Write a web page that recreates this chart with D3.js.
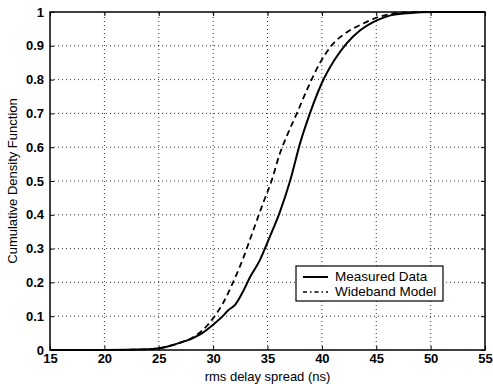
<!DOCTYPE html>
<html>
<head>
<meta charset="utf-8">
<script src="https://cdn.jsdelivr.net/npm/d3@7"></script>
<style>
  body { margin: 0; background: #fff; }
  text { font-family: "Liberation Sans", Arial, sans-serif; fill: #000; }
</style>
</head>
<body>
<div id="chart"></div>
<script>
// x ticks / y ticks
const xTicks = [15, 20, 25, 30, 35, 40, 45, 50, 55];
const yTicks = [0, 0.1, 0.2, 0.3, 0.4, 0.5, 0.6, 0.7, 0.8, 0.9, 1];

// measured data (solid)
const measuredX = [15, 20, 24, 25, 26, 27, 28, 28.8, 30, 31, 31.4, 32, 32.7, 33.4, 34.3, 35.2, 36.1, 37.1, 38, 38.9, 40, 41.2, 42.3, 43.5, 45.1, 46.3, 48.1, 50, 55];
const measuredY = [0, 0, 0.002, 0.005, 0.012, 0.022, 0.033, 0.046, 0.075, 0.104, 0.118, 0.133, 0.17, 0.216, 0.266, 0.334, 0.405, 0.503, 0.612, 0.70, 0.79, 0.86, 0.908, 0.945, 0.976, 0.99, 0.997, 1, 1];

// wideband model (dashed)
const modelX = [15, 20, 24, 25, 26, 27, 28, 29, 29.5, 30.2, 30.9, 31.8, 32.7, 33.7, 34.6, 35.4, 36.1, 36.8, 37.7, 38.7, 39.8, 41, 42.3, 43.8, 45.1, 46.3, 48, 50, 55];
const modelY = [0, 0, 0.002, 0.005, 0.012, 0.022, 0.035, 0.058, 0.074, 0.103, 0.138, 0.198, 0.266, 0.355, 0.435, 0.503, 0.578, 0.635, 0.70, 0.775, 0.848, 0.905, 0.94, 0.966, 0.984, 0.994, 0.999, 1, 1];

const legendText = ['Measured Data', 'Wideband Model'];

const width = 493, height = 384;
const margin = { left: 50, right: 8, top: 12, bottom: 34 };

const svg = d3.select('#chart')
  .append('svg')
  .attr('width', width)
  .attr('height', height);

const x = d3.scaleLinear().domain([15, 55]).range([margin.left, width - margin.right]);
const y = d3.scaleLinear().domain([0, 1]).range([height - margin.bottom, margin.top]);

//grid
const grid = svg.append('g')
  .attr('stroke', '#000')
  .attr('stroke-width', 0.8)
  .attr('stroke-dasharray', '1,3');

grid.selectAll('.vg')
  .data(xTicks.slice(1, -1))
  .enter()
  .append('line')
  .attr('x1', d => x(d)).attr('x2', d => x(d))
  .attr('y1', y(0)).attr('y2', y(1));

grid.selectAll('.hg')
  .data(yTicks.slice(1, -1))
  .enter()
  .append('line')
  .attr('x1', x(15)).attr('x2', x(55))
  .attr('y1', d => y(d)).attr('y2', d => y(d));

//axes (MATLAB style, ticks inward on all sides)
const fmt = d => (d === 0 || d === 1) ? String(d) : d3.format('.1f')(d);

svg.append('g')
  .attr('transform', `translate(0,${y(0)})`)
  .call(d3.axisBottom(x).tickValues(xTicks).tickSizeInner(-4).tickSizeOuter(0).tickPadding(4))
  .call(g => g.select('.domain').remove())
  .call(g => g.selectAll('text').attr('font-size', 13).attr('font-weight', 'bold'));

svg.append('g')
  .attr('transform', `translate(0,${y(1)})`)
  .call(d3.axisTop(x).tickValues(xTicks).tickSizeInner(-4).tickSizeOuter(0).tickFormat(''))
  .call(g => g.select('.domain').remove());

svg.append('g')
  .attr('transform', `translate(${x(15)},0)`)
  .call(d3.axisLeft(y).tickValues(yTicks).tickFormat(fmt).tickSizeInner(-4).tickSizeOuter(0).tickPadding(6))
  .call(g => g.select('.domain').remove())
  .call(g => g.selectAll('text').attr('font-size', 13).attr('font-weight', 'bold'));

svg.append('g')
  .attr('transform', `translate(${x(55)},0)`)
  .call(d3.axisRight(y).tickValues(yTicks).tickSizeInner(-4).tickSizeOuter(0).tickFormat(''))
  .call(g => g.select('.domain').remove());

svg.append('rect')
  .attr('x', x(15)).attr('y', y(1))
  .attr('width', x(55) - x(15)).attr('height', y(0) - y(1))
  .attr('fill', 'none')
  .attr('stroke', '#000')
  .attr('stroke-width', 1.5);

//curves
const line = d3.line()
  .x(d => x(d[0]))
  .y(d => y(d[1]))
  .curve(d3.curveMonotoneX);

svg.append('path')
  .datum(d3.zip(modelX, modelY))
  .attr('d', line)
  .attr('fill', 'none')
  .attr('stroke', '#000')
  .attr('stroke-width', 1.8)
  .attr('stroke-dasharray', '6,4');

svg.append('path')
  .datum(d3.zip(measuredX, measuredY))
  .attr('d', line)
  .attr('fill', 'none')
  .attr('stroke', '#000')
  .attr('stroke-width', 2);

//labels
svg.append('text')
  .attr('x', x(35))
  .attr('y', 381)
  .attr('text-anchor', 'middle')
  .attr('font-size', 13)
  .text('rms delay spread (ns)');

svg.append('text')
  .attr('transform', `translate(17,${y(0.5)}) rotate(-90)`)
  .attr('text-anchor', 'middle')
  .attr('font-size', 13)
  .text('Cumulative Density Function');

//legend
const legend = svg.append('g').attr('transform', 'translate(296,266)');

legend.append('rect')
  .attr('width', 147)
  .attr('height', 35)
  .attr('fill', '#fff')
  .attr('stroke', '#000')
  .attr('stroke-width', 1.2);

legend.selectAll('line')
  .data(legendText)
  .enter()
  .append('line')
  .attr('x1', 7).attr('x2', 32)
  .attr('y1', (d, i) => 11 + i * 15)
  .attr('y2', (d, i) => 11 + i * 15)
  .attr('stroke', '#000')
  .attr('stroke-width', (d, i) => i === 0 ? 2 : 1.5)
  .attr('stroke-dasharray', (d, i) => i === 0 ? null : '4,3,1.5,3');

legend.selectAll('text')
  .data(legendText)
  .enter()
  .append('text')
  .attr('x', 39)
  .attr('y', (d, i) => 15 + i * 15)
  .attr('font-size', 13.5)
  .text(d => d);
</script>
</body>
</html>
